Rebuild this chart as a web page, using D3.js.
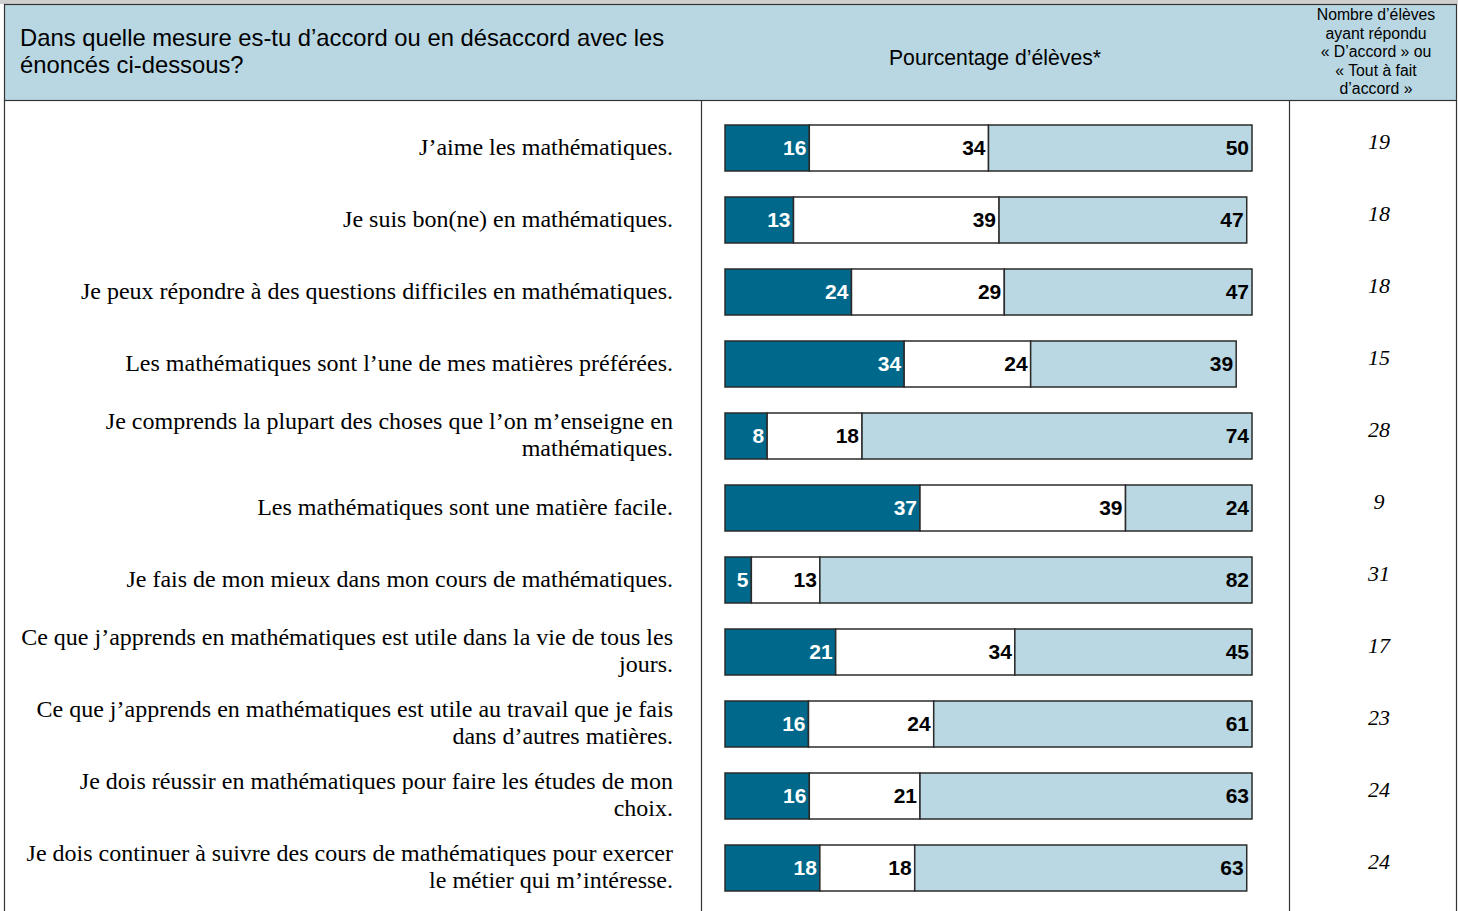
<!DOCTYPE html>
<html>
<head>
<meta charset="utf-8">
<script src="https://cdn.jsdelivr.net/npm/d3@7"></script>
<style>
  body { margin: 0; background: #fff; }
</style>
</head>
<body>
<div id="chart"></div>
<script>
// énoncés (une entrée par ligne de texte)
const questions = [
  ["J\u2019aime les mathématiques."],
  ["Je suis bon(ne) en mathématiques."],
  ["Je peux répondre à des questions difficiles en mathématiques."],
  ["Les mathématiques sont l\u2019une de mes matières préférées."],
  ["Je comprends la plupart des choses que l\u2019on m\u2019enseigne en", "mathématiques."],
  ["Les mathématiques sont une matière facile."],
  ["Je fais de mon mieux dans mon cours de mathématiques."],
  ["Ce que j\u2019apprends en mathématiques est utile dans la vie de tous les", "jours."],
  ["Ce que j\u2019apprends en mathématiques est utile au travail que je fais", "dans d\u2019autres matières."],
  ["Je dois réussir en mathématiques pour faire les études de mon", "choix."],
  ["Je dois continuer à suivre des cours de mathématiques pour exercer", "le métier qui m\u2019intéresse."]
];
const pasAccord = [16, 13, 24, 34, 8, 37, 5, 21, 16, 16, 18];
const accord = [34, 39, 29, 24, 18, 39, 13, 34, 24, 21, 18];
const toutAFait = [50, 47, 47, 39, 74, 24, 82, 45, 61, 63, 63];
const nombreEleves = [19, 18, 18, 15, 28, 9, 31, 17, 23, 24, 24];

const width = 1458, height = 911;
const colors = ["#00688a", "#ffffff", "#b9d8e3"];

const svg = d3.select("#chart").append("svg")
    .attr("width", width)
    .attr("height", height);

// bandeau d'en-tête
svg.append("rect").attr("x", 0).attr("y", 0).attr("width", width).attr("height", 4).attr("fill", "#cfcfcf");
svg.append("rect").attr("x", 4.5).attr("y", 4.5).attr("width", 1452).attr("height", 96)
    .attr("fill", "#b9d7e2").attr("stroke", "#333").attr("stroke-width", 1.2);

// lignes du tableau
const lines = [[4.5, 100, 4.5, height], [701.5, 100, 701.5, height], [1289.5, 100, 1289.5, height], [1456.5, 100, 1456.5, height]];
svg.selectAll(".grid").data(lines).enter().append("line")
    .attr("x1", d => d[0]).attr("y1", d => d[1]).attr("x2", d => d[2]).attr("y2", d => d[3])
    .attr("stroke", "#333").attr("stroke-width", 1.2);

svg.append("text")
    .style("font-family", "Liberation Sans, Arial, sans-serif")
    .style("font-size", "23.8px")
    .selectAll("tspan")
    .data(["Dans quelle mesure es-tu d\u2019accord ou en désaccord avec les", "énoncés ci-dessous?"])
    .enter().append("tspan")
    .attr("x", 20).attr("y", (d, i) => 46 + i * 27)
    .text(d => d);

svg.append("text")
    .attr("x", 995).attr("y", 65)
    .attr("text-anchor", "middle")
    .style("font-family", "Liberation Sans, Arial, sans-serif")
    .style("font-size", "21.2px")
    .text("Pourcentage d\u2019élèves*");

svg.append("text")
    .attr("text-anchor", "middle")
    .style("font-family", "Liberation Sans, Arial, sans-serif")
    .style("font-size", "15.8px")
    .selectAll("tspan")
    .data(["Nombre d\u2019élèves", "ayant répondu", "« D\u2019accord » ou", "« Tout à fait", "d\u2019accord »"])
    .enter().append("tspan")
    .attr("x", 1376).attr("y", (d, i) => 20 + i * 18.5)
    .text(d => d);

// échelles
const y = d3.scaleBand()
    .domain(d3.range(questions.length))
    .range([112, 904]);

const x = d3.scaleLinear()
    .domain([0, 100])
    .range([725, 1252]);

const barH = 46;

const rows = svg.selectAll(".row")
    .data(questions.map((q, i) => ({
      q: q, i: i,
      vals: [pasAccord[i], accord[i], toutAFait[i]],
      n: nombreEleves[i]
    })))
    .enter().append("g")
    .attr("class", "row")
    .attr("transform", d => `translate(0,${y(d.i) + y.bandwidth() / 2})`);

// énoncés
rows.append("text")
    .attr("text-anchor", "end")
    .style("font-family", "Liberation Serif, Times New Roman, serif")
    .style("font-size", "24px")
    .selectAll("tspan")
    .data(d => d.q.map((t, k) => ({t: t, k: k, n: d.q.length})))
    .enter().append("tspan")
    .attr("x", 673)
    .attr("y", d => (d.k - (d.n - 1) / 2) * 27)
    .attr("dy", "0.29em")
    .text(d => d.t);

// segments (une ligne dont le total dépasse 100 est ramenée à 100)
const segs = rows.selectAll(".seg")
    .data(d => {
      const total = d3.sum(d.vals);
      const xr = x.copy().domain([0, Math.max(100, total)]);
      let acc = 0;
      return d.vals.map((v, k) => {
        const s = {a: xr(acc), b: xr(acc + v), v: v, k: k};
        acc += v;
        return s;
      });
    })
    .enter().append("g");

segs.append("rect")
    .attr("x", d => d.a)
    .attr("y", -barH / 2)
    .attr("width", d => d.b - d.a)
    .attr("height", barH)
    .attr("fill", d => colors[d.k])
    .attr("stroke", "#2b2b2b")
    .attr("stroke-width", 1.5);

segs.append("text")
    .attr("x", d => d.b - 3)
    .attr("y", 0)
    .attr("dy", "0.32em")
    .attr("text-anchor", "end")
    .style("font-family", "Liberation Sans, Arial, sans-serif")
    .style("font-weight", "bold")
    .style("font-size", "21px")
    .style("fill", d => d.k === 0 ? "#fff" : "#000")
    .text(d => d.v);

// nombre d'élèves
rows.append("text")
    .attr("x", 1379)
    .attr("y", -7)
    .attr("dy", "0.35em")
    .attr("text-anchor", "middle")
    .style("font-family", "Liberation Serif, Times New Roman, serif")
    .style("font-style", "italic")
    .style("font-size", "22px")
    .text(d => d.n);
</script>
</body>
</html>
